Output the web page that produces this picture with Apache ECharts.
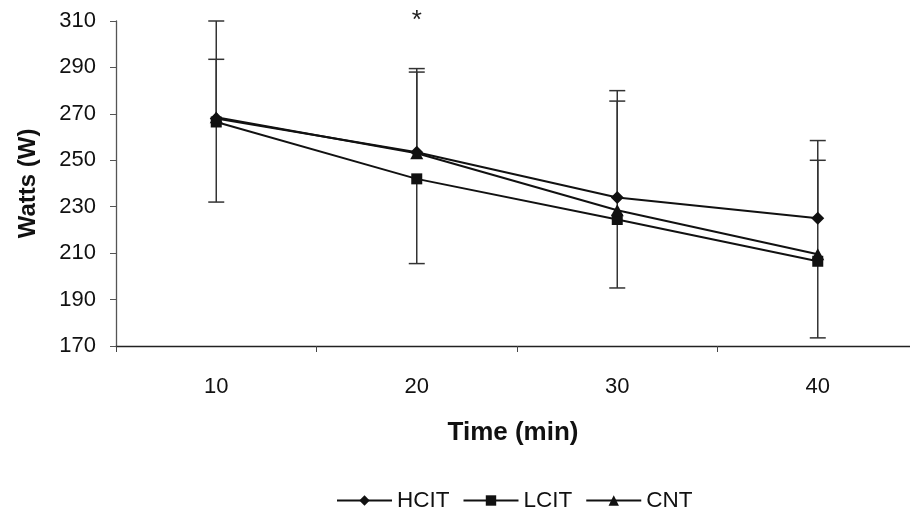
<!DOCTYPE html>
<html>
<head>
<meta charset="utf-8">
<script src="https://cdn.jsdelivr.net/npm/echarts@6/dist/echarts.min.js"></script>
<style>html,body{margin:0;padding:0;background:#fff}#c{width:910px;height:514px}</style>
</head>
<body>
<div id="c"></div>
<script>
const times = [10, 20, 30, 40];
const hcit = [268, 253.5, 234, 225];
const lcit = [266.5, 242, 224.5, 206.5];
const cnt = [268.5, 253, 228.5, 209.5];
// error bar ends (one-sided bars as drawn)
const hcitUpper = [310, 289.5, 280, 258.5];
const cntUpper = [293.5, 288, 275.5, 250];
const lcitLower = [232, 205.5, 195, 173.5];
const xTickLabels = [10, 20, 30, 40];
const xTickMarks = [5, 15, 25, 35];
const yTicks = [170, 190, 210, 230, 250, 270, 290, 310];
const starTime = 20;
const starValue = 310;

const FONT = 'Liberation Sans, Arial, sans-serif';
const chart = echarts.init(document.getElementById('c'));

function errSeries(name, means, ends) {
  return {
    type: 'custom',
    name: name + '-err',
    z: 1,
    silent: true,
    data: times.map((t, i) => [t, means[i], ends[i]]),
    renderItem: function (params, api) {
      const p0 = api.coord([api.value(0), api.value(1)]);
      const p1 = api.coord([api.value(0), api.value(2)]);
      const hw = 8;
      const style = { stroke: '#333', lineWidth: 1.5 };
      return {
        type: 'group',
        children: [
          { type: 'line', shape: { x1: p0[0], y1: p0[1], x2: p1[0], y2: p1[1] }, style: style },
          { type: 'line', shape: { x1: p1[0] - hw, y1: p1[1], x2: p1[0] + hw, y2: p1[1] }, style: style }
        ]
      };
    }
  };
}

function lineSeries(name, data, symbol, size) {
  return {
    type: 'line',
    name: name,
    data: times.map((t, i) => [t, data[i]]),
    z: 3,
    symbol: symbol,
    symbolSize: size,
    color: '#111',
    itemStyle: { color: '#111' },
    lineStyle: { color: '#111', width: 2 }
  };
}

const starSeries = {
  type: 'custom',
  name: 'star',
  silent: true,
  clip: false,
  z: 5,
  data: [[starTime, starValue]],
  renderItem: function (params, api) {
    const p = api.coord([api.value(0), api.value(1)]);
    return {
      type: 'text',
      x: p[0], y: p[1],
      style: { text: '*', fill: '#222', fontSize: 26, fontFamily: FONT, align: 'center', verticalAlign: 'middle' }
    };
  }
};

chart.setOption({
  animation: false,
  textStyle: { fontFamily: FONT },
  grid: { left: 116, top: 21, right: 0, bottom: 168 },
  legend: {
    top: 484, left: 331,
    itemWidth: 55, itemHeight: 13, itemGap: 13,
    textStyle: { fontSize: 22.5, color: '#111', fontFamily: FONT },
    data: ['HCIT', 'LCIT', 'CNT']
  },
  xAxis: {
    type: 'value',
    min: 5, max: 44.6,
    name: 'Time (min)',
    nameLocation: 'middle',
    nameGap: 74,
    nameTextStyle: { fontSize: 26, fontWeight: 'bold', color: '#111', fontFamily: FONT },
    axisLine: { show: true, onZero: false, lineStyle: { color: '#222', width: 1.3 } },
    axisTick: { show: true, length: 6, inside: false, lineStyle: { color: '#444' }, customValues: xTickMarks },
    axisLabel: { fontSize: 22, color: '#111', margin: 30, fontFamily: FONT, customValues: xTickLabels },
    splitLine: { show: false }
  },
  yAxis: {
    type: 'value',
    min: 170, max: 310, interval: 20,
    name: 'Watts (W)',
    nameLocation: 'middle',
    nameGap: 76,
    nameRotate: 90,
    nameTextStyle: { fontSize: 24, fontWeight: 'bold', color: '#111', fontFamily: FONT },
    axisLine: { show: true, lineStyle: { color: '#555', width: 1.3 } },
    axisTick: { show: true, length: 6, lineStyle: { color: '#555' } },
    axisLabel: { fontSize: 22, color: '#111', margin: 20, fontFamily: FONT,
      formatter: v => yTicks.indexOf(v) >= 0 ? String(v) : '' },
    splitLine: { show: false }
  },
  series: [
    errSeries('HCIT', hcit, hcitUpper),
    errSeries('CNT', cnt, cntUpper),
    errSeries('LCIT', lcit, lcitLower),
    lineSeries('HCIT', hcit, 'diamond', [13, 13]),
    lineSeries('LCIT', lcit, 'rect', [11, 11]),
    lineSeries('CNT', cnt, 'triangle', [13, 12]),
    starSeries
  ]
});
</script>
</body>
</html>
